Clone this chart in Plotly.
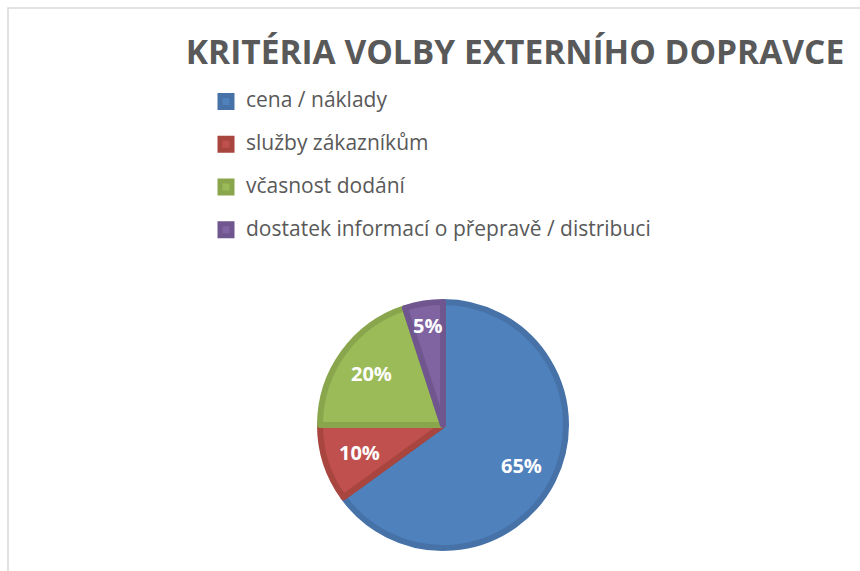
import math
import plotly.graph_objects as go

title_text = "KRITÉRIA VOLBY EXTERNÍHO DOPRAVCE"
categories = ["cena / náklady", "služby zákazníkům", "včasnost dodání",
              "dostatek informací o přepravě / distribuci"]
values = [65, 10, 20, 5]
fill_colors = ["#4F81BD", "#C0504D", "#9BBB59", "#8064A2"]
edge_colors = ["#4672A8", "#A9453F", "#89A64D", "#70568F"]

W, H = 860, 571
CX, CY, R = 443, 425, 123          # pie centre / radius in pixels (top-left origin)
dom_x = [(CX - R) / W, (CX + R) / W]
dom_y = [(H - CY - R) / H, (H - CY + R) / H]

legend_labels = [f"<span style='font-size:21px'>{c}</span><br>&nbsp;" for c in categories]

fig = go.Figure(go.Pie(
    labels=legend_labels,
    values=values,
    sort=False,
    direction="clockwise",
    rotation=0,
    marker=dict(colors=fill_colors, line=dict(color=edge_colors, width=6)),
    textinfo="none",
    domain=dict(x=dom_x, y=dom_y),
    hoverinfo="percent",
))

# percentage labels placed at slice mid-angles (derived from the values)
total = sum(values)
annotations = []
cum = 0
for v in values:
    mid = (cum + v / 2) / total * 2 * math.pi
    cum += v
    frac = 0.70 if v >= 10 else 0.80
    px = CX + frac * (R + 3) * math.sin(mid)
    py = CY - frac * (R + 3) * math.cos(mid)
    annotations.append(dict(
        x=px / W, y=1 - py / H, xref="paper", yref="paper",
        text=f"<b>{round(v / total * 100)}%</b>", showarrow=False,
        xanchor="center", yanchor="middle",
        font=dict(family="Open Sans", size=20, color="white"),
    ))

fig.update_layout(
    width=W, height=H,
    margin=dict(l=0, r=0, t=0, b=0),
    paper_bgcolor="white",
    plot_bgcolor="white",
    font=dict(family="Open Sans", color="#595959"),
    title=dict(text=f"<b>{title_text}</b>", x=515 / W, xanchor="center",
               y=1 - 52 / H, yanchor="middle",
               font=dict(family="Open Sans", size=33.5, color="#595959")),
    legend=dict(x=206 / W, xanchor="left", y=1 - 85 / H, yanchor="top",
                valign="top", font=dict(family="Open Sans", size=15.3, color="#595959"),
                bgcolor="rgba(0,0,0,0)"),
    annotations=annotations,
    shapes=[dict(type="rect", xref="paper", yref="paper",
                 x0=8 / W, x1=1.05, y0=-0.05, y1=1 - 8 / H,
                 line=dict(color="#D9D9D9", width=1.5), fillcolor="rgba(0,0,0,0)",
                 layer="below")],
)

fig.write_html("out.html", config={"displayModeBar": False},
               post_script="document.body.style.margin='0';document.body.style.padding='0';")
